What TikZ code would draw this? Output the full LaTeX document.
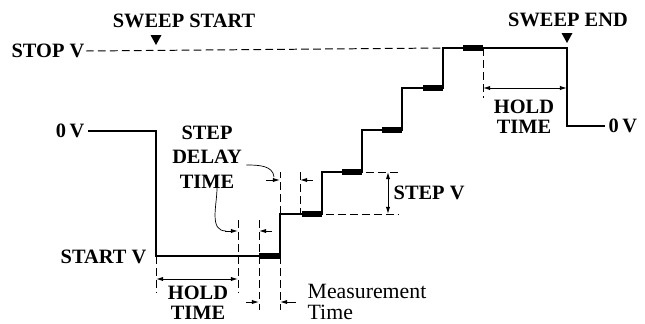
\documentclass[tikz,border=0pt]{standalone}
\usepackage{fontspec}
\setmainfont{Liberation Serif}
\usetikzlibrary{calc}
\usetikzlibrary{arrows.meta}

\tikzset{
	wave/.style={line width=1.4pt},
	meas/.style={line width=3.6pt},
	ext/.style={dashed, dash pattern=on 5.5pt off 3pt, line width=0.7pt},
	dim/.style={line width=0.7pt, -{Latex[length=5pt,width=3pt]}},
	dimdim/.style={line width=0.7pt, {Latex[length=5pt,width=3pt]}-{Latex[length=5pt,width=3pt]}},
	lbl/.style={inner sep=1pt, font=\fontsize{14.5}{15}\selectfont\bfseries}
}

\begin{document}
\begin{tikzpicture}[x=0.025cm, y=-0.025cm]
					\useasboundingbox (0,0) rectangle (645,323);

					% Corners of the staircase
					\coordinate (Z0) at (88,131);
					\coordinate (Z1) at (156,131);
					\coordinate (L0) at (156,256);
					\coordinate (U1) at (280,256);
					\coordinate (L1) at (280,214);
					\coordinate (U2) at (322,214);
					\coordinate (L2) at (322,172);
					\coordinate (U3) at (362,172);
					\coordinate (L3) at (362,130);
					\coordinate (U4) at (402,130);
					\coordinate (L4) at (402,88);
					\coordinate (U5) at (443,88);
					\coordinate (L5) at (443,48);
					\coordinate (E0) at (567,48);
					\coordinate (E1) at (567,126);
					\coordinate (E2) at (605,126);

					% Labels of the levels
					\node[lbl, anchor=east] (stopv) at (86,51) {STOP V};
					\node[lbl, anchor=east] (zerol) at (86,131) {0\,V};
					\node[lbl, anchor=east] (startv) at (148,257) {START V};
					\node[lbl, anchor=west] (zeror) at (607,126) {0\,V};

					% Sweep marks
					\node[lbl] (sstart) at (184,21) {SWEEP START};
					\node[lbl] (send) at (568,20) {SWEEP END};
					\fill ($(Z1|-sstart)+(0,24)$) -- ++(-5.5,-10) -- ++(11,0) -- cycle;
					\fill ($(E0|-send)+(0,23)$) -- ++(-5.5,-10) -- ++(11,0) -- cycle;

					\draw[ext] (stopv.east) -- (L5);

					% The staircase itself
					\draw[wave] (Z0) -- (Z1) -- (L0) -- (U1) -- (L1) -- (U2) -- (L2) -- (U3) -- (L3) -- (U4) -- (L4) -- (U5) -- (L5) -- (E0) -- (E1) -- (E2);
					\draw[meas] ($(U1)+(-21,0)$) -- (U1);
					\draw[meas] ($(U2)+(-20,0)$) -- (U2);
					\draw[meas] ($(U3)+(-20,0)$) -- (U3);
					\draw[meas] ($(U4)+(-20,0)$) -- (U4);
					\draw[meas] ($(U5)+(-20,0)$) -- (U5);
					\draw[meas] ($(L5)+(20,0)$) -- ($(L5)+(40,0)$);

					% Hold time at the start
					\draw[ext] (L0) -- ++(0,36);
					\draw[ext] (238,220) -- (238,292);
					\draw[dimdim] (156,279) -- (238,279);
					\node[lbl, align=center, font=\fontsize{14.5}{14.2}\selectfont\bfseries] (holdl) at (198,303) {HOLD\\TIME};

					% Step delay time
					\node[lbl, align=center, font=\fontsize{14.5}{17.4}\selectfont\bfseries] (sdt) at (207,157) {STEP\\DELAY\\TIME};
					\draw[ext] (259,220) -- (259,310);
					\draw[dim] (225,231) -- (238,231);
					\draw[dim] (272,231) -- (259,231);
					\draw[ext] (L1) -- ++(0,-42);
					\draw[ext] (300,172) -- (300,214);
					\draw[dim] (266,180) -- (280,180);
					\draw[dim] (313,180) -- (300,180);
					\draw[line width=0.5pt] (sdt.east) ++(3,8) to[out=0, in=95] (274,177);
					\draw[line width=0.5pt] (sdt.south) ++(10,-2) to[out=-90, in=180] (226,231);

					% Measurement time
					\draw[ext] (U1) -- ++(0,54);
					\draw[dim] (246,302) -- (259,302);
					\draw[dim] (296,302) -- (280,302);
					\node[lbl, anchor=west, align=left, font=\fontsize{15.5}{15}\selectfont] (meastime) at (306,302) {Measurement\\Time};

					% Step size
					\draw[ext] ($(U2)+(4,0)$) -- (398,214);
					\draw[ext] ($(U3)+(4,0)$) -- (398,172);
					\draw[dimdim] (388,172) -- (388,214);
					\node[lbl, anchor=west] (stepv) at (392,193) {STEP V};

					% Hold time at the end
					\draw[ext] ($(L5)+(40,0)$) -- ++(0,50);
					\draw[dimdim] (483,88) -- (567,88);
					\node[lbl, align=center, font=\fontsize{14.5}{14.2}\selectfont\bfseries] (holdr) at (524,117) {HOLD\\TIME};
				\end{tikzpicture}
\end{document}
